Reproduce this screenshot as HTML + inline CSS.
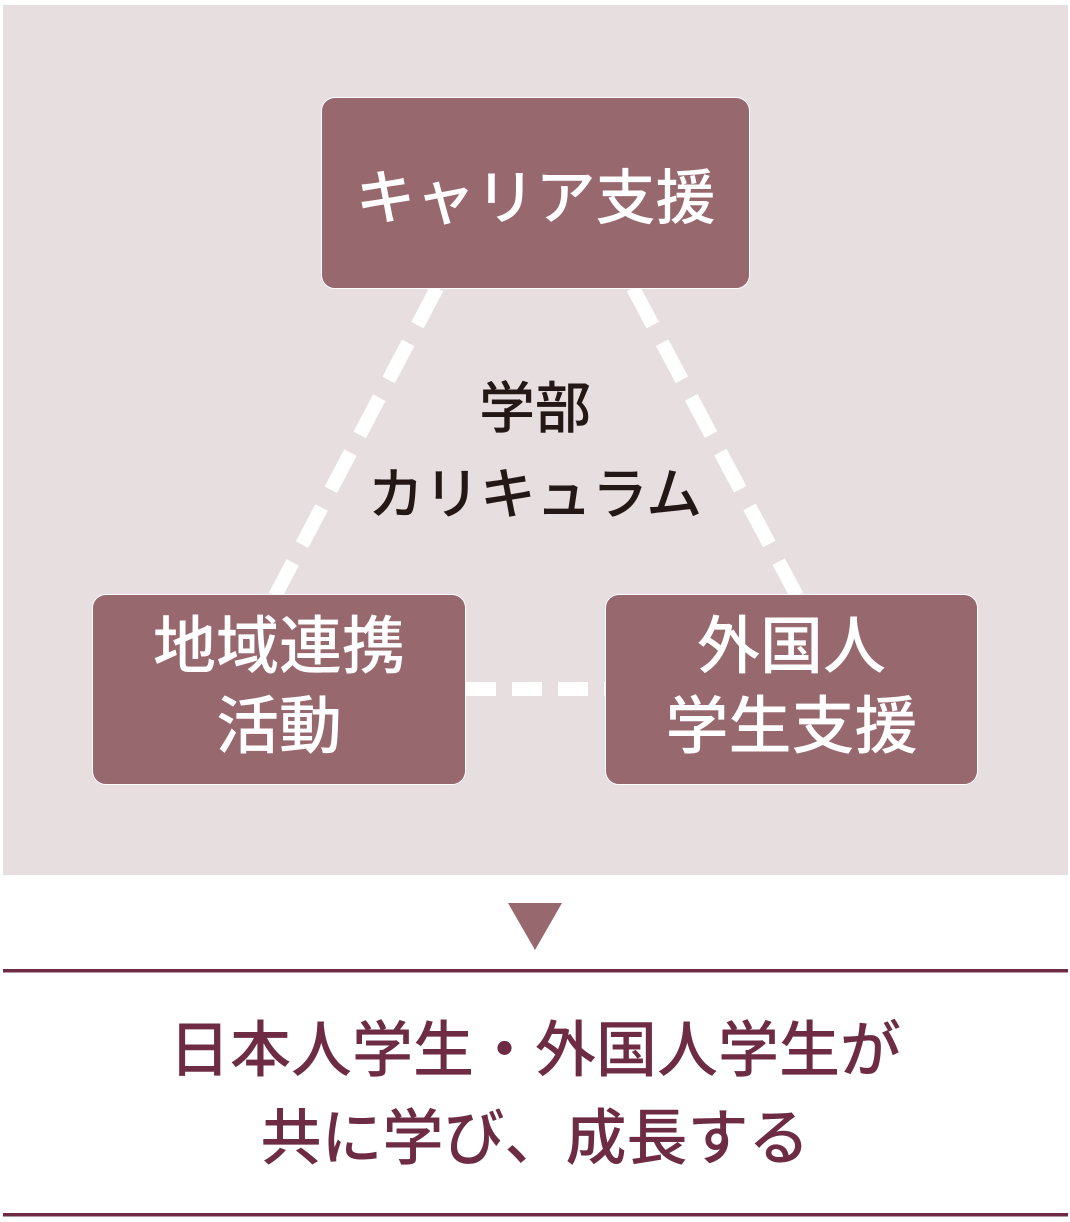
<!DOCTYPE html>
<html><head><meta charset="utf-8"><style>
body{margin:0;width:1070px;height:1222px;background:#fff;position:relative;overflow:hidden;font-family:"Liberation Sans","Noto Sans CJK JP",sans-serif}
.bg{position:absolute;left:3px;top:5px;width:1065px;height:870px;background:#e7dfdf}
.box{position:absolute;background:#98686f;border:1.5px solid #fff;border-radius:14px;color:#fff;display:flex;align-items:center;justify-content:center;text-align:center;box-sizing:border-box;font-weight:500}
.t{position:absolute;left:0;width:1070px;text-align:center}
</style></head><body>
<div class="bg"></div>
<svg width="1070" height="1222" style="position:absolute;left:0;top:0">
<g stroke="#fff" stroke-width="14" stroke-dasharray="42 20" fill="none">
<line x1="437" y1="288" x2="275" y2="596"/>
<line x1="633" y1="288" x2="797" y2="596"/>
<line x1="466" y1="689" x2="605" y2="689" stroke-dasharray="30 16"/>
</g>
<polygon points="508,903 562,903 535,950" fill="#98686f"/>
<rect x="3" y="969" width="1065" height="3.5" fill="#6e2c44"/>
<rect x="3" y="1213" width="1065" height="3.5" fill="#6e2c44"/>
</svg>
<div class="box" style="left:321px;top:97px;width:429px;height:192px;font-size:60px;letter-spacing:0px">キャリア支援</div>
<div class="box" style="left:92px;top:594px;width:374px;height:191px;font-size:63px;line-height:80px;padding-bottom:6px">地域連携<br>活動</div>
<div class="box" style="left:605px;top:594px;width:373px;height:191px;font-size:63px;line-height:80px;padding-bottom:6px">外国人<br>学生支援</div>
<div class="t" style="top:366px;font-size:56px;line-height:86px;color:#231815;font-weight:500">学部<br>カリキュラム</div>
<div class="t" style="top:1006px;font-size:61px;line-height:88px;color:#6e2c44;font-weight:500">日本人学生・外国人学生が<br>共に学び、成長する</div>
</body></html>
